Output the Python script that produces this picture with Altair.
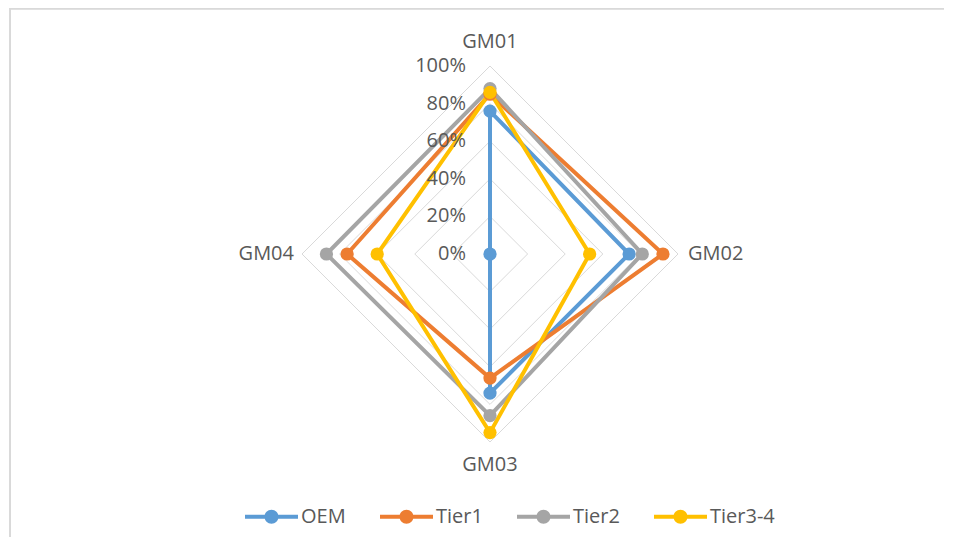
import math
import altair as alt
import pandas as pd

# ---- data ----
categories = ["GM01", "GM02", "GM03", "GM04"]
series = ["OEM", "Tier1", "Tier2", "Tier3-4"]
oem = [0.76, 0.74, 0.74, 0.00]
tier1 = [0.85, 0.92, 0.66, 0.76]
tier2 = [0.88, 0.81, 0.86, 0.87]
tier34 = [0.86, 0.53, 0.95, 0.60]
levels = [0.0, 0.2, 0.4, 0.6, 0.8, 1.0]
level_labels = ["0%", "20%", "40%", "60%", "80%", "100%"]
colors = ["#5B9BD5", "#ED7D31", "#A5A5A5", "#FFC000"]

values = {"OEM": oem, "Tier1": tier1, "Tier2": tier2, "Tier3-4": tier34}
n = len(categories)


def polar(r, i):
    a = 2 * math.pi * i / n
    return r * math.sin(a), r * math.cos(a)


rows = []
for s in series:
    vals = values[s]
    for k in range(n + 1):
        i = k % n
        x, y = polar(vals[i], i)
        rows.append(dict(series=s, category=categories[i], order=k, value=vals[i], x=x, y=y))
df = pd.DataFrame(rows)

grid_rows = []
for lv in levels[1:]:
    for k in range(n + 1):
        x, y = polar(lv, k % n)
        grid_rows.append(dict(level=lv, order=k, x=x, y=y))
grid_df = pd.DataFrame(grid_rows)

cat_rows = []
for i, c in enumerate(categories):
    x, y = polar(1.0, i)
    cat_rows.append(dict(category=c, x=x, y=y))
cat_df = pd.DataFrame(cat_rows)

lev_df = pd.DataFrame({"level": levels, "label": level_labels, "x": [0.0] * len(levels)})

# ---- layout ----
W, H = 936, 529
cx, cy, R = 482, 246, 188
xs = alt.Scale(domain=[-cx / R, (W - cx) / R], nice=False, zero=False)
ys = alt.Scale(domain=[-(H - cy) / R, cy / R], nice=False, zero=False)

FONT = "Open Sans"
FS = 20
TXT = "#595959"

X = alt.X("x:Q", scale=xs, axis=None)
Y = alt.Y("y:Q", scale=ys, axis=None)

legend_path = ("M-1,-0.075H1V0.075H-1Z "
               "M0.264,0A0.264,0.264 0 1,1 -0.264,0A0.264,0.264 0 1,1 0.264,0Z")

color = alt.Color(
    "series:N",
    scale=alt.Scale(domain=series, range=colors),
    sort=series,
    legend=alt.Legend(
        title=None, orient="none", legendX=237, legendY=482,
        direction="horizontal", symbolType=legend_path, symbolSize=2809,
        symbolStrokeWidth=0, symbolOpacity=1,
        labelFont=FONT, labelFontSize=FS, labelColor=TXT,
        labelOffset=3, columnPadding=34, padding=0,
    ),
)

# chart-area frame: top and left edges only
frame_top = alt.Chart(lev_df).mark_rule(color="#d9d9d9", strokeWidth=1.5).encode(
    x=alt.value(2), x2=alt.value(W + 20), y=alt.value(0.5), y2=alt.value(0.5)
)
frame_left = alt.Chart(lev_df).mark_rect(color="#d9d9d9").encode(
    x=alt.value(1.5), x2=alt.value(3), y=alt.value(0), y2=alt.value(H)
)

grid = alt.Chart(grid_df).mark_line(color="#d9d9d9", strokeWidth=1).encode(
    x=X, y=Y, detail="level:N", order="order:Q"
)

lines = alt.Chart(df).mark_line(strokeWidth=4).encode(
    x=X, y=Y, color=color, order="order:Q"
)
points = alt.Chart(df).transform_filter("datum.order < 4").mark_point(
    filled=True, size=175, opacity=1
).encode(x=X, y=Y, color=color)

lev_text = alt.Chart(lev_df).mark_text(
    align="right", baseline="middle", dx=-24, font=FONT, fontSize=FS, color=TXT
).encode(x=X, y=alt.Y("level:Q", scale=ys, axis=None), text="label:N")

base_cat = alt.Chart(cat_df)
cat_top = base_cat.transform_filter("datum.category == 'GM01'").mark_text(
    align="center", baseline="middle", dy=-24, font=FONT, fontSize=FS, color=TXT
).encode(x=X, y=Y, text="category:N")
cat_bottom = base_cat.transform_filter("datum.category == 'GM03'").mark_text(
    align="center", baseline="middle", dy=23, font=FONT, fontSize=FS, color=TXT
).encode(x=X, y=Y, text="category:N")
cat_right = base_cat.transform_filter("datum.category == 'GM02'").mark_text(
    align="left", baseline="middle", dx=10, font=FONT, fontSize=FS, color=TXT
).encode(x=X, y=Y, text="category:N")
cat_left = base_cat.transform_filter("datum.category == 'GM04'").mark_text(
    align="right", baseline="middle", dx=-8, font=FONT, fontSize=FS, color=TXT
).encode(x=X, y=Y, text="category:N")

chart = alt.layer(
    frame_top, frame_left, grid, lines, points, lev_text,
    cat_top, cat_bottom, cat_right, cat_left,
).properties(
    width=W, height=H, padding=0,
    autosize=alt.AutoSizeParams(type="none"),
    background="white",
).configure_view(stroke="transparent", strokeWidth=0)

chart.save("out.html", embed_options={"renderer": "svg", "actions": False})
